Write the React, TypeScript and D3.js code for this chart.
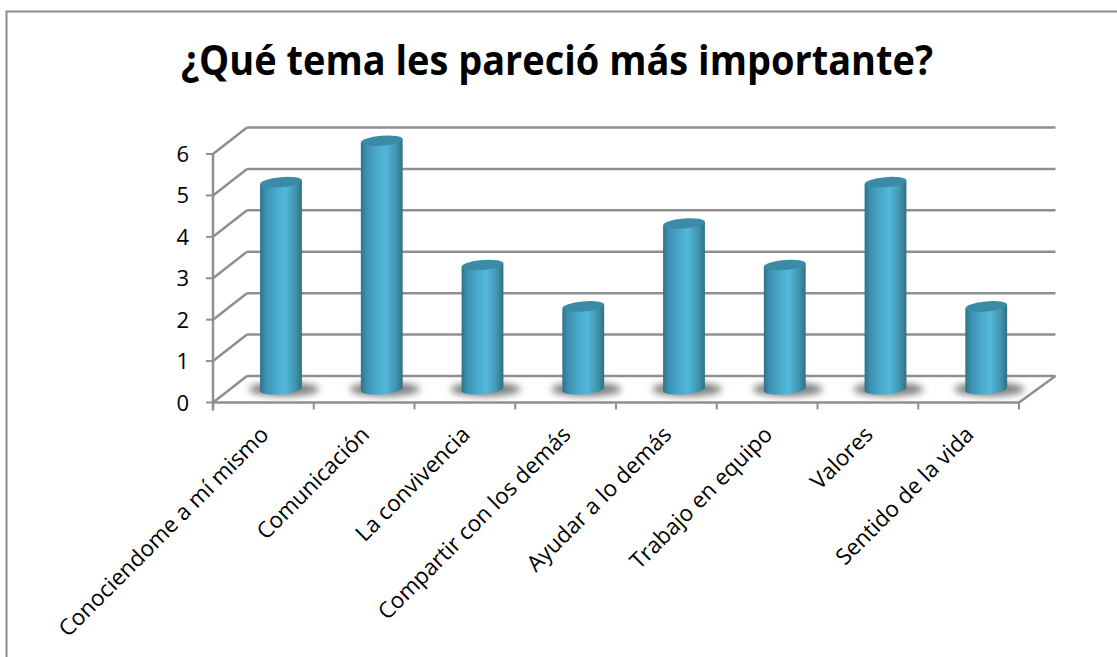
import React from "react";
import * as d3 from "d3";

const categories = ["Conociendome a mí mismo", "Comunicación", "La convivencia", "Compartir con los demás", "Ayudar a lo demás", "Trabajo en equipo", "Valores", "Sentido de la vida"];
const values = [5, 6, 3, 2, 4, 3, 5, 2];
const yTicks = [0, 1, 2, 3, 4, 5, 6];
const titleText = "¿Qué tema les pareció más importante?";

const W = 1117, H = 657;
const x0 = 213, x1 = 1019, y0 = 402.5, y6 = 154;
const dxL = 34, dxR = 36.5, dy = -26.5;
const font = "'Open Sans', sans-serif";
const axisColor = "#8f8f8f";

export default function App() {
  const x = d3.scaleBand<string>().domain(categories).range([x0, x1]);
  const y = d3.scaleLinear().domain([0, 6]).range([y0, y6]);
  const barW = x.bandwidth() * 0.415;
  const rx = barW / 2, ry = 5, tilt = -5;
  const mid = (dxL + dxR) / 2;
  return (
    <svg width={W} height={H} style={{ position: "absolute", left: 0, top: 0 }}>
      <defs>
        <linearGradient id="cyl" x1="0" x2="1" y1="0" y2="0">
          <stop offset="0" stopColor="#2f7088" />
          <stop offset="0.12" stopColor="#3b8fad" />
          <stop offset="0.4" stopColor="#4aabcc" />
          <stop offset="0.6" stopColor="#52b8da" />
          <stop offset="0.85" stopColor="#3f93ae" />
          <stop offset="1" stopColor="#30707f" />
        </linearGradient>
        <filter id="blur" x="-40%" y="-80%" width="180%" height="260%">
          <feGaussianBlur stdDeviation="3.5" />
        </filter>
      </defs>
      <rect x={6.5} y={11.5} width={1120} height={660} fill="#fff" stroke="#8a8a8a" strokeWidth={2} />
      <text x={557} y={75} textAnchor="middle" fontFamily={font} fontWeight={700} fontSize={42} textLength={752} lengthAdjust="spacingAndGlyphs" fill="#000">{titleText}</text>

      {yTicks.map((t) => (
        <g key={t} stroke={axisColor} strokeWidth={2.5} fill="none">
          <line x1={x0} y1={y(t)} x2={x0 + dxL} y2={y(t) + dy} />
          <line x1={x0 + dxL} y1={y(t) + dy} x2={x1 + dxR} y2={y(t) + dy} />
          <line x1={x0 - 7} y1={y(t)} x2={x0} y2={y(t)} strokeWidth={2} />
        </g>
      ))}
      <line x1={x1} y1={y0} x2={x1 + dxR} y2={y0 + dy} stroke={axisColor} strokeWidth={2.5} />
      <line x1={x0} y1={y6} x2={x0} y2={y0 + 8} stroke={axisColor} strokeWidth={2.5} />
      <line x1={x0} y1={y0} x2={x1} y2={y0} stroke={axisColor} strokeWidth={2.5} />
      {[...categories.map((c) => x(c)!), x1].map((px, i) => (
        <line key={i} x1={px} y1={y0} x2={px} y2={y0 + 7} stroke={axisColor} strokeWidth={2} />
      ))}

      {yTicks.map((t) => (
        <text key={t} x={x0 - 24} y={y(t) + 8} textAnchor="end" fontFamily={font} fontSize={22} fill="#000">{t}</text>
      ))}

      {categories.map((c) => {
        const cx = x(c)! + x.bandwidth() / 2 + mid / 2;
        const by = y0 + dy / 2;
        return <ellipse key={c} cx={cx + 3} cy={by} rx={rx + 14} ry={7} fill="#808080" filter="url(#blur)" />;
      })}

      {categories.map((c, i) => {
        const cx = x(c)! + x.bandwidth() / 2 + mid / 2;
        const by = y0 + dy / 2;
        const ty = y(values[i]) + dy / 2;
        const s = Math.sin((tilt * Math.PI) / 180) * rx;
        const body = `M${cx - rx},${ty - s} L${cx - rx},${by - s} A${rx},${ry} ${tilt} 0 0 ${cx + rx},${by + s} L${cx + rx},${ty + s} Z`;
        return (
          <g key={c}>
            <path d={body} fill="url(#cyl)" />
            <ellipse cx={cx} cy={ty} rx={rx} ry={ry} fill="#3b8ba7" transform={`rotate(${tilt} ${cx} ${ty})`} />
          </g>
        );
      })}

      {categories.map((c) => {
        const px = x(c)! + x.bandwidth() / 2 + 1;
        const py = y0 + 28;
        return (
          <text key={c} transform={`translate(${px},${py}) rotate(-45)`} textAnchor="end" fontFamily={font} fontSize={22.4} fill="#000" dy="0.35em">{c}</text>
        );
      })}
    </svg>
  );
}
